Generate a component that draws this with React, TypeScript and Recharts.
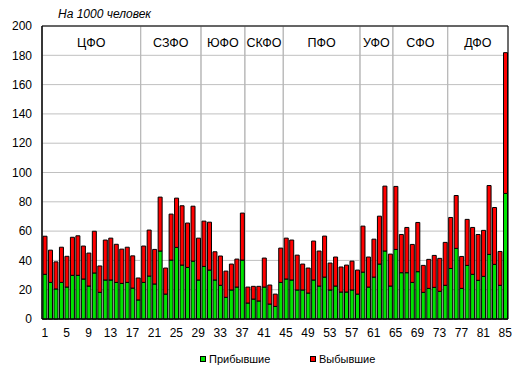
import { BarChart, Bar, XAxis, YAxis, CartesianGrid, ReferenceArea } from 'recharts';

// regions numbered 1..85, grouped by federal district
const regionNo = Array.from({ length: 85 }, (_, i) => i + 1);

// per 1000 people
const arrived = [
  30.5, 25, 20.5, 25, 21.8, 29.8, 29.8, 27.3, 22.5, 31.4,
  18.2, 26.6, 26.6, 25, 24.3, 25, 21.1, 13, 25, 29.3,
  23.9, 46.4, 17, 40.2, 48.9, 36.8, 35.2, 39.5, 26.6, 35.9,
  33.4, 26.6, 23, 14.8, 19.8, 21.8, 40.2, 10.9, 13.6, 12.3,
  21.8, 10.2, 8.6, 25, 27.3, 26.6, 19.8, 19.8, 17.7, 26.6,
  22.5, 28.6, 19.8, 22.5, 18.4, 18.4, 19.8, 17, 32, 21.8,
  28.6, 37.5, 46.4, 22.5, 47.5, 31.6, 31.6, 25, 32.3, 18.2,
  20.9, 21.6, 18.9, 23, 34.5, 48.2, 20.9, 36.6, 30.5, 26.4,
  29.1, 44.1, 37.3, 23, 85.7,
];

const departed = [
  26, 22, 18.5, 24, 21, 26, 27, 22.5, 22.5, 28.5,
  18, 27.3, 28.6, 26, 23.4, 24, 22, 15, 24.8, 31.4,
  23.6, 36.8, 17.8, 31.4, 33.6, 40.5, 30.3, 37.5, 28.6, 30.9,
  32.7, 19.3, 20, 17.9, 17.7, 19.1, 32.1, 10.9, 8.7, 10,
  19.8, 13, 8.4, 23.4, 27.9, 27.3, 23.8, 17.7, 17.1, 26.6,
  23.9, 28, 18.4, 19.8, 17.1, 18.4, 19.7, 16.4, 31.4, 20.5,
  25.9, 32.7, 44.3, 21.8, 43, 26.1, 30.9, 25.9, 33.6, 18.4,
  19.8, 21.8, 22.5, 29.3, 34.8, 36.1, 21.8, 31.4, 32, 31.3,
  31.4, 47, 38.8, 23.1, 96.1,
];

const districts = [
  { name: 'ЦФО', from: 1, to: 18 },
  { name: 'СЗФО', from: 19, to: 29 },
  { name: 'ЮФО', from: 30, to: 37 },
  { name: 'СКФО', from: 38, to: 44 },
  { name: 'ПФО', from: 45, to: 58 },
  { name: 'УФО', from: 59, to: 64 },
  { name: 'СФО', from: 65, to: 74 },
  { name: 'ДФО', from: 75, to: 85 },
];

const yTicks = [0, 20, 40, 60, 80, 100, 120, 140, 160, 180, 200];

const data = regionNo.map((n, i) => ({ n, arrived: arrived[i], departed: departed[i] }));

const font = '"Liberation Sans", Arial, sans-serif';
const GREEN = '#00e400';
const RED = '#ff0000';

function LegendItem({ color, label, left }: { color: string; label: string; left: number }) {
  return (
    <div style={{ position: 'absolute', left, top: 353, display: 'flex', alignItems: 'center', fontSize: 11 }}>
      <span style={{ width: 6, height: 6, background: color, border: '1px solid #000', boxSizing: 'border-box', marginRight: 3 }} />
      <span>{label}</span>
    </div>
  );
}

export default function App() {
  return (
    <div style={{ position: 'absolute', left: 0, top: 0, width: 520, height: 376, background: '#fff', fontFamily: font, color: '#000' }}>
      <div style={{ position: 'absolute', left: 58, top: 7, fontSize: 12, fontStyle: 'italic' }}>На 1000 человек</div>
      <BarChart
        width={520}
        height={376}
        data={data}
        margin={{ top: 26, right: 12, left: 0, bottom: 35 }}
        style={{ fontFamily: font }}
      >
        <CartesianGrid vertical={false} stroke="#c0c0c0" />
        <XAxis
          dataKey="n"
          interval={3}
          tickLine={false}
          axisLine={{ stroke: '#000' }}
          tick={{ fill: '#000', fontSize: 12 }}
          tickMargin={3}
          height={22}
        />
        <YAxis
          domain={[0, 200]}
          ticks={yTicks}
          width={42}
          tickLine={false}
          axisLine={{ stroke: '#000' }}
          tick={{ fill: '#000', fontSize: 12 }}
          tickMargin={4}
        />
        <Bar dataKey="arrived" stackId="a" fill={GREEN} stroke="#000" strokeWidth={1} barSize={4} isAnimationActive={false} />
        <Bar dataKey="departed" stackId="a" fill={RED} stroke="#000" strokeWidth={1} barSize={4} isAnimationActive={false} />
        {districts.map((d) => (
          <ReferenceArea
            key={d.name}
            x1={d.from}
            x2={d.to}
            y1={0}
            y2={200}
            fill="none"
            fillOpacity={0}
            stroke="#b8b8b8"
            strokeWidth={1}
            label={{ value: d.name, position: 'insideTop', offset: 12, fill: '#000', fontSize: 12.5 }}
          />
        ))}
        <ReferenceArea x1={1} x2={85} y1={0} y2={200} fill="none" fillOpacity={0} stroke="#000" strokeWidth={1} />
      </BarChart>
      <LegendItem color={GREEN} label="Прибывшие" left={200} />
      <LegendItem color={RED} label="Выбывшие" left={310} />
    </div>
  );
}
